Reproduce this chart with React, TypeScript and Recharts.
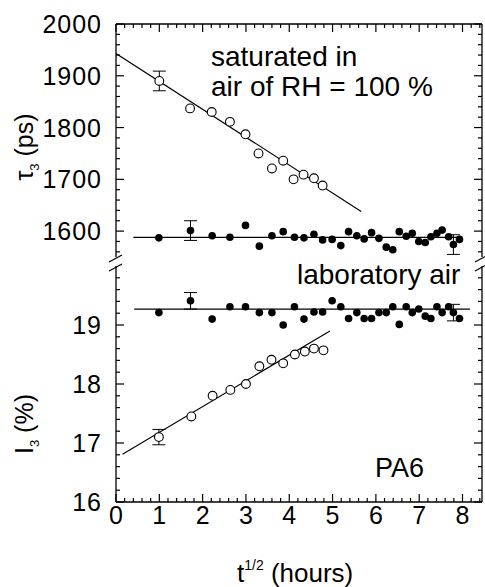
import React from 'react';
import { ComposedChart, Scatter, XAxis, YAxis, ErrorBar } from 'recharts';

// x = t^(1/2) (hours^1/2)
// tau3 (ps), sample saturated in air of RH = 100 %
const tauSatX = [1.0, 1.71, 2.21, 2.63, 2.99, 3.29, 3.6, 3.86, 4.1, 4.33, 4.57, 4.77];
const tauSatY = [1890, 1837, 1830, 1811, 1787, 1750, 1721, 1736, 1700, 1709, 1702, 1688];
const tauSatErr = [19, 0, 0, 0, 0, 0, 0, 0, 0, 0, 0, 0];

// laboratory air, shared x positions for tau3 and I3
const labX = [0.99, 1.72, 2.22, 2.63, 2.99, 3.31, 3.6, 3.86, 4.12, 4.34, 4.57, 4.77, 4.99, 5.19, 5.37, 5.56,
  5.73, 5.9, 6.07, 6.24, 6.39, 6.54, 6.7, 6.84, 6.99, 7.14, 7.27, 7.41, 7.53, 7.68, 7.79, 7.93];
const tauLabY = [1587, 1601, 1591, 1588, 1611, 1571, 1591, 1599, 1588, 1587, 1594, 1583, 1584, 1572, 1599, 1591,
  1585, 1597, 1586, 1569, 1564, 1599, 1590, 1596, 1580, 1578, 1589, 1596, 1602, 1589, 1574, 1584];
const tauLabErr = [0, 19, 0, 0, 0, 0, 0, 0, 0, 0, 0, 0, 0, 0, 0, 0,
  0, 0, 0, 0, 0, 0, 0, 0, 0, 0, 0, 0, 0, 0, 19, 0];
const iLabY = [19.21, 19.41, 19.10, 19.31, 19.31, 19.21, 19.21, 19.0, 19.31, 19.10, 19.22, 19.22, 19.41, 19.31, 19.11, 19.21,
  19.11, 19.11, 19.21, 19.21, 19.31, 19.01, 19.31, 19.21, 19.27, 19.15, 19.11, 19.31, 19.21, 19.31, 19.21, 19.11];
const iLabErr = [0, 0.14, 0, 0, 0, 0, 0, 0, 0, 0, 0, 0, 0, 0, 0, 0,
  0, 0, 0, 0, 0, 0, 0, 0, 0, 0, 0, 0, 0, 0, 0.14, 0];

// I3 (%), saturated sample
const iSatX = [0.99, 1.74, 2.23, 2.64, 3.0, 3.31, 3.59, 3.86, 4.13, 4.36, 4.57, 4.79];
const iSatY = [17.10, 17.45, 17.80, 17.90, 18.0, 18.30, 18.41, 18.35, 18.50, 18.55, 18.60, 18.57];
const iSatErr = [0.13, 0, 0, 0, 0, 0, 0, 0, 0, 0, 0, 0];

// linear fits (end points)
const tauSatFitX = [0, 5.66];
const tauSatFitY = [1943, 1638];
const tauLabFitX = [0.4, 7.97];
const tauLabFitY = [1588, 1588];
const iSatFitX = [0.15, 4.94];
const iSatFitY = [16.81, 18.9];
const iLabFitX = [0.42, 8.17];
const iLabFitY = [19.27, 19.27];

const steps = (from: number, to: number, step: number) =>
  Array.from({ length: Math.round((to - from) / step) + 1 }, (_, i) => +(from + i * step).toFixed(3));

const xTicks = steps(0, 8.4, 0.2);
const tauTicks = steps(1560, 2000, 20);
const iTicks = steps(16, 19.8, 0.2);

const toPoints = (xs: number[], ys: number[], errs?: number[]) =>
  xs.map((x, i) => ({ x, y: ys[i], err: errs ? errs[i] : 0 }));

const tauSat = toPoints(tauSatX, tauSatY, tauSatErr);
const tauLab = toPoints(labX, tauLabY, tauLabErr);
const iSat = toPoints(iSatX, iSatY, iSatErr);
const iLab = toPoints(labX, iLabY, iLabErr);

const FONT = '"Liberation Sans", Arial, Helvetica, sans-serif';
const AXIS = { stroke: '#000', strokeWidth: 1.3 };

const isMajor = (v: number, step: number) => Math.abs(v / step - Math.round(v / step)) < 1e-6;

const LeftTick = (props: any) => {
  const { x, y, payload, step } = props;
  const major = isMajor(payload.value, step);
  return (
    <g>
      <line x1={x} y1={y} x2={x + (major ? 8 : 4)} y2={y} stroke="#000" strokeWidth={1.2} />
      {major && (
        <text x={x - 14} y={y} dy="0.36em" textAnchor="end" fontSize={25} letterSpacing={1}
          fontFamily={FONT} fill="#000">
          {Math.round(payload.value)}
        </text>
      )}
    </g>
  );
};

const RightTick = (props: any) => {
  const { x, y, payload, step } = props;
  const major = isMajor(payload.value, step);
  return <line x1={x} y1={y} x2={x - (major ? 8 : 4)} y2={y} stroke="#000" strokeWidth={1.2} />;
};

const TopTick = (props: any) => {
  const { x, y, payload } = props;
  const major = isMajor(payload.value, 1);
  return <line x1={x} y1={y} x2={x} y2={y + (major ? 8 : 4)} stroke="#000" strokeWidth={1.2} />;
};

const BottomTick = (props: any) => {
  const { x, y, payload } = props;
  const major = isMajor(payload.value, 1);
  return (
    <g>
      <line x1={x} y1={y} x2={x} y2={y - (major ? 8 : 4)} stroke="#000" strokeWidth={1.2} />
      {major && (
        <text x={x} y={y + 22} textAnchor="middle" fontSize={25} fontFamily={FONT} fill="#000">
          {Math.round(payload.value)}
        </text>
      )}
    </g>
  );
};

const OpenDot = (p: any) => <circle cx={p.cx} cy={p.cy} r={4.4} fill="#fff" stroke="#000" strokeWidth={1.1} />;
const FilledDot = (p: any) => <circle cx={p.cx} cy={p.cy} r={3.8} fill="#000" />;
const NoDot = () => <g />;

const fitLine = { stroke: '#000', strokeWidth: 1.2 };

const Overlay: React.FC = () => (
  <svg width={485} height={587} style={{ position: 'absolute', left: 0, top: 0, pointerEvents: 'none' }}
    fontFamily={FONT} fill="#000">
    {/* axis breaks */}
    <g stroke="#000" strokeWidth={1.2}>
      <line x1={109} y1={262} x2={122} y2={255} />
      <line x1={109} y1={271} x2={122} y2={264} />
      <line x1={475} y1={262} x2={488} y2={255} />
      <line x1={475} y1={271} x2={488} y2={264} />
    </g>
    <text x={211} y={66} fontSize={28}>saturated in</text>
    <text x={211} y={96} fontSize={28}>air of RH = 100 %</text>
    <text x={297} y={284} fontSize={28}>laboratory air</text>
    <text x={375} y={477} fontSize={27}>PA6</text>
    <text x={237} y={582} fontSize={26}>
      t<tspan fontSize={14} dy={-12}>1/2</tspan>
      <tspan fontSize={26} dy={12}> (hours)</tspan>
    </text>
    <text transform="rotate(-90, 33, 147)" x={33} y={147} textAnchor="middle" fontSize={25}>
      τ<tspan fontSize={13} dy={6}>3</tspan><tspan dy={-6}> (ps)</tspan>
    </text>
    <text transform="rotate(-90, 33, 424)" x={33} y={424} textAnchor="middle" fontSize={25}>
      I<tspan fontSize={13} dy={6}>3</tspan><tspan dy={-6}>  (%)</tspan>
    </text>
  </svg>
);

const App: React.FC = () => (
  <div style={{ position: 'absolute', left: 0, top: 0, width: 485, height: 587, background: '#fff' }}>
    {/* top panel: tau3 */}
    <div style={{ position: 'absolute', left: 0, top: 0 }}>
      <ComposedChart width={485} height={257} margin={{ top: 0, right: 0, bottom: 0, left: 0 }}>
        <XAxis dataKey="x" type="number" orientation="top" domain={[0, 8.45]} allowDataOverflow
          ticks={xTicks} interval={0} height={24} tickSize={0} tickMargin={0}
          axisLine={AXIS} tickLine={false} tick={<TopTick />} />
        <YAxis yAxisId="L" dataKey="y" type="number" domain={[1550, 2000]} allowDataOverflow
          ticks={tauTicks} interval={0} width={116} tickSize={0} tickMargin={0}
          axisLine={AXIS} tickLine={false} tick={(p: any) => <LeftTick {...p} step={100} />} />
        <YAxis yAxisId="R" orientation="right" type="number" domain={[1550, 2000]} allowDataOverflow
          ticks={tauTicks} interval={0} width={3} tickSize={0} tickMargin={0}
          axisLine={AXIS} tickLine={false} tick={(p: any) => <RightTick {...p} step={100} />} />
        <Scatter yAxisId="L" data={toPoints(tauSatFitX, tauSatFitY)} line={fitLine} shape={NoDot} isAnimationActive={false} />
        <Scatter yAxisId="L" data={toPoints(tauLabFitX, tauLabFitY)} line={fitLine} shape={NoDot} isAnimationActive={false} />
        <Scatter yAxisId="L" data={tauSat.filter(d => d.err > 0)} shape={NoDot} isAnimationActive={false}>
          <ErrorBar dataKey="err" direction="y" width={6.5} stroke="#000" strokeWidth={1} isAnimationActive={false} />
        </Scatter>
        <Scatter yAxisId="L" data={tauLab.filter(d => d.err > 0)} shape={NoDot} isAnimationActive={false}>
          <ErrorBar dataKey="err" direction="y" width={6.5} stroke="#000" strokeWidth={1} isAnimationActive={false} />
        </Scatter>
        <Scatter yAxisId="L" data={tauSat} shape={OpenDot} isAnimationActive={false} />
        <Scatter yAxisId="L" data={tauLab} shape={FilledDot} isAnimationActive={false} />
      </ComposedChart>
    </div>

    {/* bottom panel: I3 */}
    <div style={{ position: 'absolute', left: 0, top: 0 }}>
      <ComposedChart width={485} height={587} margin={{ top: 266, right: 0, bottom: 0, left: 0 }}>
        <XAxis dataKey="x" type="number" orientation="bottom" domain={[0, 8.45]} allowDataOverflow
          ticks={xTicks} interval={0} height={85} tickSize={0} tickMargin={0}
          axisLine={AXIS} tickLine={false} tick={<BottomTick />} />
        <YAxis yAxisId="L" dataKey="y" type="number" domain={[16, 20]} allowDataOverflow
          ticks={iTicks} interval={0} width={116} tickSize={0} tickMargin={0}
          axisLine={AXIS} tickLine={false} tick={(p: any) => <LeftTick {...p} step={1} />} />
        <YAxis yAxisId="R" orientation="right" type="number" domain={[16, 20]} allowDataOverflow
          ticks={iTicks} interval={0} width={3} tickSize={0} tickMargin={0}
          axisLine={AXIS} tickLine={false} tick={(p: any) => <RightTick {...p} step={1} />} />
        <Scatter yAxisId="L" data={toPoints(iSatFitX, iSatFitY)} line={fitLine} shape={NoDot} isAnimationActive={false} />
        <Scatter yAxisId="L" data={toPoints(iLabFitX, iLabFitY)} line={fitLine} shape={NoDot} isAnimationActive={false} />
        <Scatter yAxisId="L" data={iSat.filter(d => d.err > 0)} shape={NoDot} isAnimationActive={false}>
          <ErrorBar dataKey="err" direction="y" width={6.5} stroke="#000" strokeWidth={1} isAnimationActive={false} />
        </Scatter>
        <Scatter yAxisId="L" data={iLab.filter(d => d.err > 0)} shape={NoDot} isAnimationActive={false}>
          <ErrorBar dataKey="err" direction="y" width={6.5} stroke="#000" strokeWidth={1} isAnimationActive={false} />
        </Scatter>
        <Scatter yAxisId="L" data={iSat} shape={OpenDot} isAnimationActive={false} />
        <Scatter yAxisId="L" data={iLab} shape={FilledDot} isAnimationActive={false} />
      </ComposedChart>
    </div>

    <Overlay />
  </div>
);

export default App;
